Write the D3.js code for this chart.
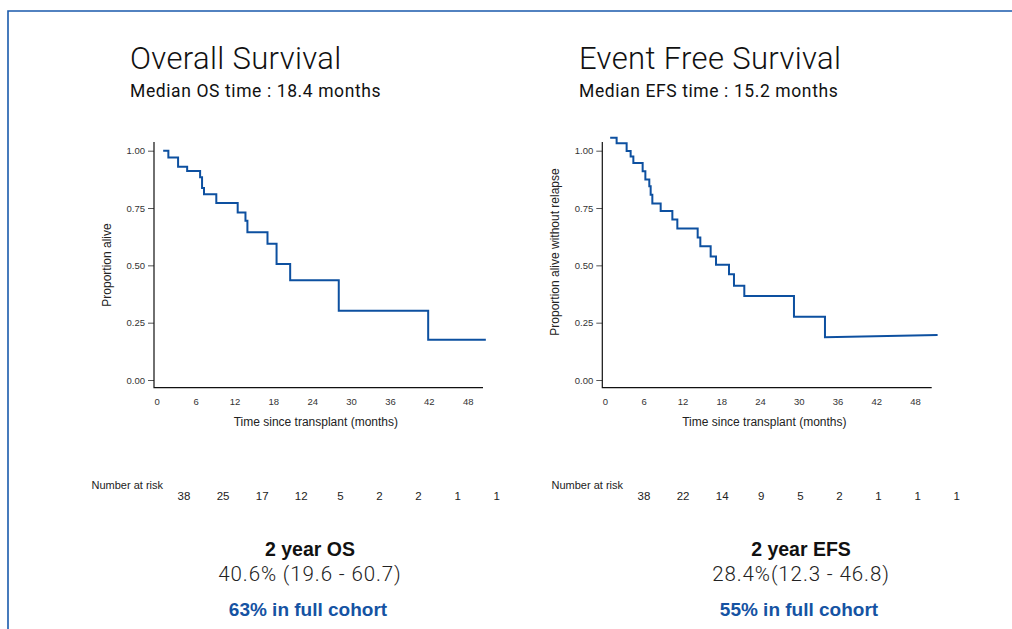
<!DOCTYPE html>
<html>
<head>
<meta charset="utf-8">
<script src="https://cdn.jsdelivr.net/npm/d3@7"></script>
<style>
  html, body { margin: 0; padding: 0; background: #fff; }
  svg { display: block; }
</style>
</head>
<body>
<svg id="chart" width="1012" height="629"></svg>
<script>
// ---------------- DATA ----------------
const xTicks = [0, 6, 12, 18, 24, 30, 36, 42, 48];
const yTicks = [0, 0.25, 0.5, 0.75, 1.0];

// Overall survival: step times (months) and survival after each step
const osTimes = [1.0, 1.8, 3.3, 4.7, 6.7, 7.0, 7.3, 9.2, 12.5, 13.7, 14.0, 17.1, 18.5, 20.6, 28.1, 41.9];
const osSurv  = [1.0, 0.970, 0.930, 0.912, 0.884, 0.837, 0.810, 0.772, 0.730, 0.695, 0.644, 0.594, 0.506, 0.435, 0.302, 0.176];
const osEnd = [50.8, 0.176];

// Event free survival
const efsTimes = [0.8, 1.8, 3.35, 3.97, 4.39, 5.83, 6.25, 6.86, 7.07, 7.33, 8.62, 10.43, 11.2, 14.35, 14.76, 16.36, 17.19, 19.2, 19.97, 21.57, 29.26, 34.06];
const efsSurv  = [1.057, 1.033, 0.999, 0.975, 0.946, 0.910, 0.874, 0.845, 0.808, 0.770, 0.737, 0.700, 0.661, 0.622, 0.583, 0.539, 0.503, 0.461, 0.411, 0.366, 0.276, 0.186];
const efsEnd = [51.5, 0.196];

const riskTimes = [0, 6, 12, 18, 24, 30, 36, 42, 48];
const osRisk  = [38, 25, 17, 12, 5, 2, 2, 1, 1];
const efsRisk = [38, 22, 14, 9, 5, 2, 1, 1, 1];

const panels = [
  {
    title: "Overall Survival",
    subtitle: "Median OS time : 18.4 months",
    ylab: "Proportion alive",
    times: osTimes, surv: osSurv, end: osEnd,
    risk: osRisk,
    stat1: "2 year OS",
    stat2: "40.6% (19.6 - 60.7)",
    stat3: "63% in full cohort",
    titleX: 130, x0: 156.7, x48: 467.7, axisEnd: 483, riskX0: 184, riskX48: 496.7,
    riskLabelX: 91.5, ylabX: 106.5, ylabY: 265, statX: 310
  },
  {
    title: "Event Free Survival",
    subtitle: "Median EFS time : 15.2 months",
    ylab: "Proportion alive without relapse",
    times: efsTimes, surv: efsSurv, end: efsEnd,
    risk: efsRisk,
    stat1: "2 year EFS",
    stat2: "28.4%(12.3 - 46.8)",
    stat3: "55% in full cohort",
    titleX: 579, x0: 605, x48: 915, axisEnd: 931.7, riskX0: 644, riskX48: 956.7,
    riskLabelX: 551.5, ylabX: 555, ylabY: 252, statX: 801
  }
];

// ---------------- DRAW ----------------
const svg = d3.select("#chart");
const blue = "#0d50a0";
const lightFont = "Roboto, 'Open Sans', sans-serif";
const plainFont = "'Liberation Sans', Arial, sans-serif";
const boldFont = "'Liberation Sans Narrow', 'Liberation Sans', sans-serif";

// frame
svg.append("path")
  .attr("d", "M8,629 L8,11 L1012,11")
  .attr("fill", "none")
  .attr("stroke", "#1a5aac")
  .attr("stroke-width", 1.6);

const y = d3.scaleLinear().domain([0, 1]).range([380, 150.7]);

panels.forEach(p => {
  const g = svg.append("g");
  const x = d3.scaleLinear().domain([0, 48]).range([p.x0, p.x48]);
  const xLeft = p.x0 - 2.7;
  const yBottom = 387.7, yTop = 142;

  // titles
  g.append("text").attr("x", p.titleX).attr("y", 68.5)
    .attr("font-family", lightFont).attr("font-weight", 300)
    .attr("font-size", 31).attr("letter-spacing", 0.35).attr("fill", "#111").text(p.title);
  g.append("text").attr("x", p.titleX).attr("y", 96.5)
    .attr("font-family", lightFont).attr("font-weight", 400)
    .attr("font-size", 17.5).attr("letter-spacing", 0.6).attr("fill", "#111").text(p.subtitle);

  // y axis ticks
  const yAxis = d3.axisLeft(y).tickValues(yTicks).tickFormat(d3.format(".2f"))
    .tickSize(6).tickPadding(3);
  const ya = g.append("g").attr("transform", `translate(${xLeft},0)`).call(yAxis);
  ya.select(".domain").remove();
  ya.selectAll(".tick line").attr("stroke", "#555");
  ya.selectAll(".tick text").attr("font-family", plainFont).attr("font-size", 9.5).attr("fill", "#333");

  // x axis labels
  const xAxis = d3.axisBottom(x).tickValues(xTicks).tickSize(0).tickPadding(11);
  const xa = g.append("g").attr("transform", `translate(0,${yBottom})`).call(xAxis);
  xa.select(".domain").remove();
  xa.selectAll(".tick text").attr("font-family", plainFont).attr("font-size", 9.5).attr("fill", "#333");

  // axis lines
  g.append("path")
    .attr("d", `M${xLeft},${yTop} L${xLeft},${yBottom} L${p.axisEnd},${yBottom}`)
    .attr("fill", "none").attr("stroke", "#111").attr("stroke-width", 1.2);

  // axis titles
  g.append("text").attr("x", (p.x0 + p.axisEnd) / 2 - 4).attr("y", 426)
    .attr("text-anchor", "middle").attr("font-family", plainFont)
    .attr("font-size", 12).attr("fill", "#222").text("Time since transplant (months)");
  g.append("text")
    .attr("transform", `translate(${p.ylabX},${p.ylabY}) rotate(-90)`)
    .attr("text-anchor", "middle").attr("dy", "0.35em").attr("font-family", plainFont)
    .attr("font-size", 12).attr("fill", "#222").text(p.ylab);

  // KM curve: expand steps
  const pts = [];
  p.times.forEach((t, i) => {
    if (i > 0) pts.push([t, p.surv[i - 1]]);
    pts.push([t, p.surv[i]]);
  });
  pts.push(p.end);
  const line = d3.line().x(d => x(d[0])).y(d => y(d[1])).curve(d3.curveLinear);
  g.append("path").attr("d", line(pts))
    .attr("fill", "none").attr("stroke", blue).attr("stroke-width", 2)
    .attr("stroke-linejoin", "miter");

  // number at risk
  const rx = d3.scaleLinear().domain([0, 48]).range([p.riskX0, p.riskX48]);
  g.append("text").attr("x", p.riskLabelX).attr("y", 489)
    .attr("font-family", plainFont).attr("font-size", 11).attr("fill", "#222")
    .text("Number at risk");
  g.selectAll(".risk").data(p.risk).enter().append("text")
    .attr("x", (d, i) => rx(riskTimes[i])).attr("y", 499.5)
    .attr("text-anchor", "middle").attr("font-family", plainFont)
    .attr("font-size", 11.5).attr("fill", "#222").text(d => d);

  // stats
  g.append("text").attr("x", p.statX).attr("y", 555.5).attr("text-anchor", "middle")
    .attr("font-family", boldFont).attr("font-weight", 700).attr("font-size", 19.5)
    .attr("fill", "#111").text(p.stat1);
  g.append("text").attr("x", p.statX).attr("y", 581).attr("text-anchor", "middle")
    .attr("font-family", lightFont).attr("font-weight", 300).attr("font-size", 20.5)
    .attr("letter-spacing", 0.9).attr("fill", "#222").text(p.stat2);
  g.append("text").attr("x", p.statX - 2).attr("y", 615.5).attr("text-anchor", "middle")
    .attr("font-family", boldFont).attr("font-weight", 700).attr("font-size", 19)
    .attr("fill", "#1553a3").text(p.stat3);
});
</script>
</body>
</html>
